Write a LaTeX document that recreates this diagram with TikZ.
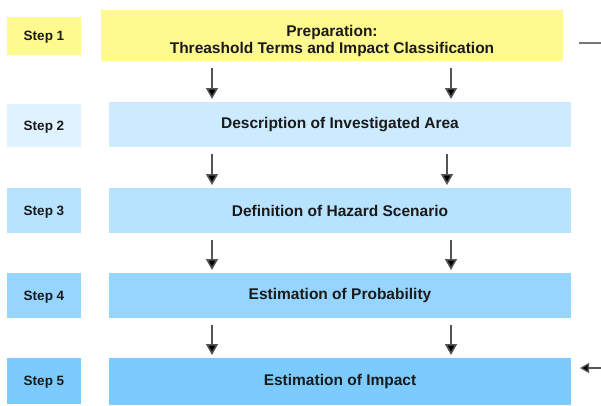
\documentclass[tikz,border=0pt]{standalone}
\usepackage{fontspec}
\setmainfont{Liberation Sans}
\usetikzlibrary{arrows.meta}
\definecolor{cyel}{HTML}{FFFA8F}
\definecolor{clab2}{HTML}{DFF2FF}
\definecolor{cb2}{HTML}{CCEBFF}
\definecolor{cb3}{HTML}{B8E3FF}
\definecolor{cb4}{HTML}{96D5FF}
\definecolor{cb5}{HTML}{7BCBFF}
\definecolor{ctxt}{HTML}{1A1A1A}
\definecolor{cshaft}{HTML}{555555}
\tikzset{
  x=1pt, y=-1pt,
  boxbase/.style={inner sep=0pt, outer sep=0pt, align=center, text=ctxt, font=\bfseries\fontsize{15.5}{17}\selectfont},
  mainbox/.style={boxbase, minimum width=462pt, minimum height=45pt},
  stepbox/.style={boxbase, minimum width=74pt, text depth=0pt, font=\bfseries\fontsize{13.5}{15}\selectfont},
  arr/.style={draw=cshaft, line width=1.6pt, -{Triangle[width=12pt,length=11pt,fill=black]}, shorten <=7pt, shorten >=3pt},
  sidearr/.style={draw=cshaft, line width=1.3pt, -{Triangle[width=10pt,length=9pt,fill=black]}},
  sideline/.style={draw=cshaft!80, line width=1.3pt}
}
\begin{document}
\begin{tikzpicture}
\useasboundingbox (0,0) rectangle (601,405);
% main boxes
\node[mainbox, fill=cyel, minimum height=51pt] (b1) at (332,35.5) {\rule{0pt}{22pt}Preparation:\\Threashold Terms and Impact Classification};
\node[mainbox, fill=cb2] (b2) at (340,124.5) {Description of Investigated Area};
\node[mainbox, fill=cb3] (b3) at (340,210.5) {Definition of Hazard Scenario};
\node[mainbox, fill=cb4] (b4) at (340,295.5) {Estimation of Probability};
\node[mainbox, fill=cb5, minimum height=47pt] (b5) at (340,381.5) {Estimation of Impact};
% step labels
\node[stepbox, fill=cyel, minimum height=38pt] (s1) at (44,36) {Step 1};
\node[stepbox, fill=clab2, minimum height=43pt] (s2) at (44,125.5) {Step 2};
\node[stepbox, fill=cb3, minimum height=45pt] (s3) at (44,210.5) {Step 3};
\node[stepbox, fill=cb4, minimum height=45pt] (s4) at (44,295.5) {Step 4};
\node[stepbox, fill=cb5, minimum height=46pt] (s5) at (44,381) {Step 5};
% arrow columns
\coordinate (xl) at (212,0);
\coordinate (xr) at (451,0);
\coordinate (xr2) at (447,0);
\draw[arr] (b1.south -| xl) -- (b2.north -| xl);
\draw[arr] (b1.south -| xr) -- (b2.north -| xr);
\draw[arr] (b2.south -| xl) -- (b3.north -| xl);
\draw[arr] (b2.south -| xr2) -- (b3.north -| xr2);
\draw[arr] (b3.south -| xl) -- (b4.north -| xl);
\draw[arr] (b3.south -| xr) -- (b4.north -| xr);
\draw[arr] (b4.south -| xl) -- (b5.north -| xl);
\draw[arr] (b4.south -| xr) -- (b5.north -| xr);
% side connectors
\coordinate (t1) at (579,43);
\coordinate (t2) at (601,43);
\draw[sideline] (t1) -- (t2);
\coordinate (u1) at (601,368);
\coordinate (u2) at (580,368);
\draw[sidearr] (u1) -- (u2);
\end{tikzpicture}
\end{document}
